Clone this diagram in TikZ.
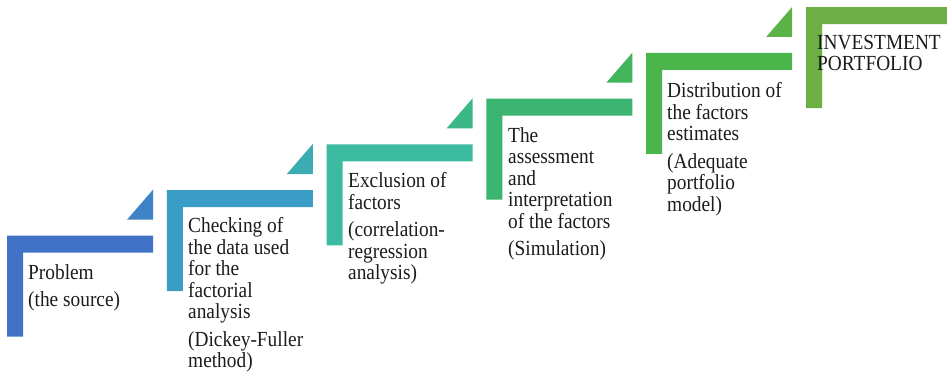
\documentclass[tikz,border=0pt]{standalone}
\usepackage{fontspec}
\setmainfont{Liberation Serif}[FakeStretch=0.9]
\definecolor{cA}{RGB}{66,114,200}
\definecolor{cB}{RGB}{58,157,197}
\definecolor{cC}{RGB}{60,186,160}
\definecolor{cD}{RGB}{58,180,112}
\definecolor{cE}{RGB}{74,181,74}
\definecolor{cF}{RGB}{108,175,68}
\definecolor{txtc}{RGB}{28,28,28}
\tikzset{
  txt/.style={anchor=base west, inner sep=0pt, text=txtc,
    font={\fontsize{21.5}{21.5}\selectfont\lineskiplimit-50pt\relax}}
}
\newcommand\stepL[4]{% left, top, bar colour, triangle colour
  \fill[#3] (#1,#2) -- ++(146,0) -- ++(0,17) -- ++(-130,0) -- ++(0,84) -- ++(-16,0) -- cycle;
  \fill[#4] (#1+120,#2-16) -- (#1+146,#2-16) -- (#1+146,#2-46) -- cycle;
}
\begin{document}
\begin{tikzpicture}[x=1pt,y=-1pt]
\useasboundingbox (0,0) rectangle (947,384);
\fill[white] (0,0) rectangle (947,384);
\stepL{7}{235.7}{cA}{cA!60!cB}
\stepL{166.8}{190.0}{cB}{cB!50!cC}
\stepL{326.6}{144.3}{cC}{cC!50!cD}
\stepL{486.4}{98.6}{cD}{cD!50!cE}
\stepL{646.2}{52.9}{cE}{cE!50!cF}
\fill[cF] (806,7.2) -- (947,7.2) -- (947,24.2) -- (822,24.2) -- (822,108.2) -- (806,108.2) -- cycle;

\node[txt] (t1) at (28,279) {\parbox[t]{130pt}{\raggedright Problem\\[6pt](the source)}};
\node[txt] (t2) at (188,232.5) {\parbox[t]{135pt}{\raggedright Checking of\\the data used\\for the\\factorial\\analysis\\[6pt](Dickey-Fuller\\method)}};
\node[txt] (t3) at (348,187.5) {\parbox[t]{135pt}{\raggedright Exclusion of\\factors\\[6pt](correlation-\\regression\\analysis)}};
\node[txt] (t4) at (508,142) {\parbox[t]{135pt}{\raggedright The\\assessment\\and\\interpretation\\of the factors\\[6pt](Simulation)}};
\node[txt] (t5) at (667,97.5) {\parbox[t]{135pt}{\raggedright Distribution of\\the factors\\estimates\\[6pt](Adequate\\portfolio\\model)}};
\node[txt] (t6) at (817,49) {\parbox[t]{135pt}{\raggedright INVESTMENT\\PORTFOLIO}};
\end{tikzpicture}
\end{document}
